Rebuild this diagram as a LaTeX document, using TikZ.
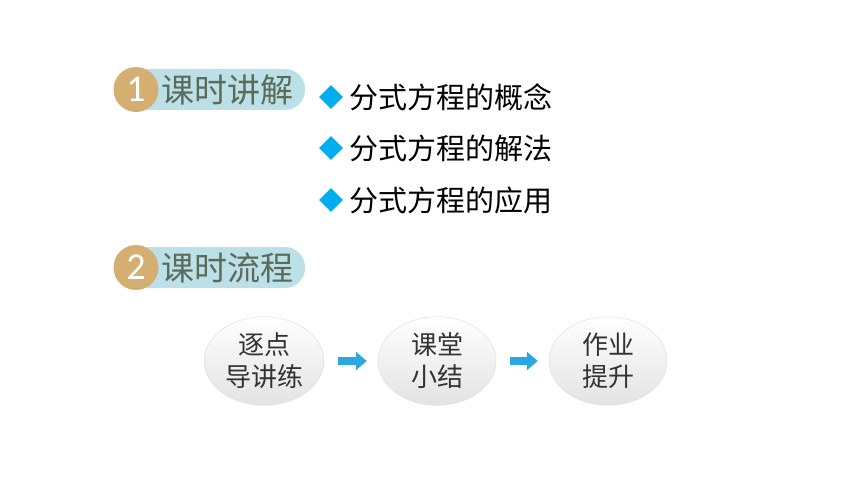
\documentclass[tikz,border=0pt]{standalone}
\usepackage{fontspec}
\setmainfont{Noto Sans CJK SC}
\newfontfamily\numfont{Carlito}
\usetikzlibrary{arrows.meta, shapes.geometric}

\definecolor{pillblue}{HTML}{BBE0E8}
\definecolor{badgetan}{HTML}{D5AE72}
\definecolor{titlegreen}{HTML}{5C6B57}
\definecolor{bulletblue}{HTML}{00AEEF}
\definecolor{flowblue}{HTML}{2BA8E0}

\begin{document}
\begin{tikzpicture}[x = 1pt, y = -1pt,
	pill/.style = {fill = pillblue, rounded corners = 20pt},
	badge/.style = {circle, fill = badgetan, minimum size = 45pt, inner sep = 0pt, text = white, font = \numfont\fontsize{38}{38}\selectfont},
	title/.style = {anchor = west, text = titlegreen, inner sep = 0pt, font = \fontsize{33}{33}\selectfont},
	bullet/.style = {diamond, fill = bulletblue, minimum size = 24pt, inner sep = 0pt},
	item/.style = {anchor = west, inner sep = 0pt, font = \fontsize{29}{29}\selectfont},
	stage/.style = {ellipse, minimum width = 118pt, minimum height = 84pt, draw = gray!30, top color = white, bottom color = gray!22, align = center, text = black!80, font = \fontsize{26}{32}\selectfont},
	flow/.style = {line width = 8pt, flowblue, -{Triangle[length = 11pt, width = 18pt]}, shorten < = 14pt, shorten > = 11pt}
]

	\useasboundingbox (0, 0) rectangle (860, 484);

	% Section headings
	
	\fill [pill] (130, 69) rectangle (305, 110);
	\fill [pill] (130, 247) rectangle (305, 288);
	
	\node [badge] (one) at (136, 89.5) {1};
	\node [badge] (two) at (136, 267.5) {2};
	
	\node [title] (lecture) at (161, 90) {课时讲解};
	\node [title] (process) at (161, 268) {课时流程};
	
	% Topics of the lesson
	
	\node [bullet] (b1) at (331, 97) {};
	\node [bullet] (b2) at (331, 148) {};
	\node [bullet] (b3) at (331, 200) {};
	
	\node [item] (concept) at (349, 97) {分式方程的概念};
	\node [item] (solving) at (349, 148) {分式方程的解法};
	\node [item] (usage) at (349, 200) {分式方程的应用};
	
	% Flow of the lesson
	
	\node [stage] (drill) at (264, 361) {逐点\\导讲练};
	\node [stage] (summary) at (437, 361) {课堂\\小结};
	\node [stage] (homework) at (608, 361) {作业\\提升};
	
	\draw [flow] (drill) -- (summary);
	\draw [flow] (summary) -- (homework);

\end{tikzpicture}
\end{document}
